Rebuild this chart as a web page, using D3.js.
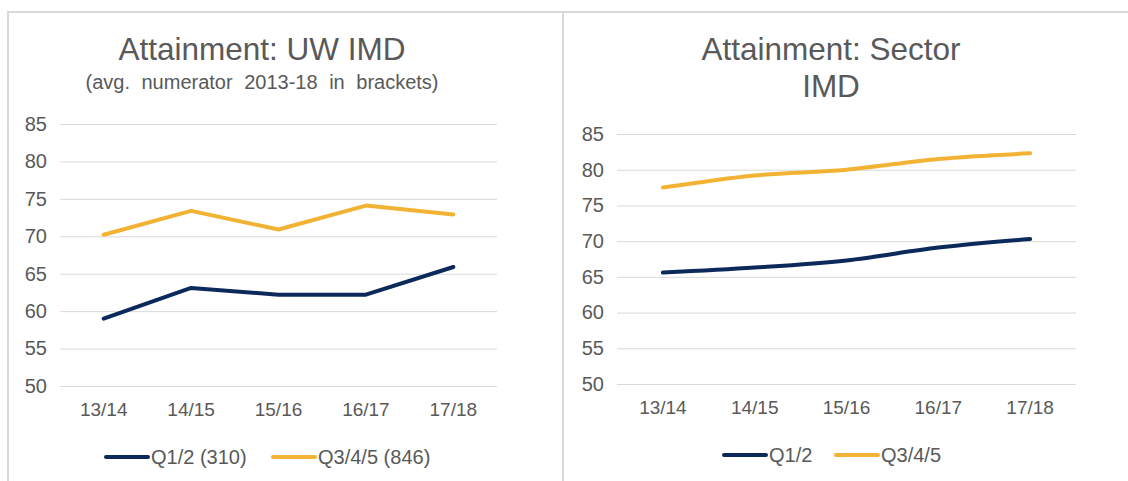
<!DOCTYPE html>
<meta charset="utf-8">
<style>
 body { margin: 0; background: #fff; }
 svg text { font-family: "Liberation Sans", Arial, sans-serif; fill: #595959; }
 .grid line { stroke: #d9d9d9; stroke-width: 1px; }
 .frame { stroke: #d9d9d9; stroke-width: 2px; fill: none; }
 .series { fill: none; stroke-width: 4px; stroke-linejoin: round; stroke-linecap: round; }
</style>
<svg class="chart" width="1128" height="481"></svg>
<script src="https://cdn.jsdelivr.net/npm/d3@7"></script>
<script>
 // shared categories and ticks
 var years = ["13/14", "14/15", "15/16", "16/17", "17/18"];
 var yTicks = [50, 55, 60, 65, 70, 75, 80, 85];

 // UW values
 var uwLow = [59.0, 63.1, 62.2, 62.2, 65.9];
 var uwHigh = [70.2, 73.4, 70.9, 74.1, 72.9];

 // sector values
 var sectorLow = [65.6, 66.3, 67.3, 69.1, 70.3];
 var sectorHigh = [77.5, 79.2, 80.0, 81.5, 82.3];

 var navy = "#0b2a5b";
 var gold = "#f2b233";

 var svg = d3.select(".chart");

 // frames round the two chart panels
 svg.append("path").attr("class", "frame").attr("d", "M8,490V12H1130");
 svg.append("line").attr("class", "frame")
     .attr("x1", 563).attr("x2", 563).attr("y1", 12).attr("y2", 490);

 drawPanel({
     left: 60, right: 497, top: 124, bottom: 386,
     titles: ["Attainment: UW IMD"], titleX: 262,
     subtitle: "(avg. numerator 2013-18 in brackets)",
     low: uwLow, high: uwHigh, curve: d3.curveLinear,
     legend: [{x: 106, label: "Q1/2 (310)"}, {x: 273, label: "Q3/4/5 (846)"}], legendY: 457
 });

 drawPanel({
     left: 617, right: 1076, top: 134, bottom: 384,
     titles: ["Attainment: Sector", "IMD"], titleX: 831,
     low: sectorLow, high: sectorHigh, curve: d3.curveCatmullRom.alpha(0),
     legend: [{x: 724, label: "Q1/2"}, {x: 836, label: "Q3/4/5"}], legendY: 455
 });

 function drawPanel(p)
 {
     var x = d3.scaleBand().domain(years).range([p.left, p.right]);
     var y = d3.scaleLinear().domain([50, 85]).range([p.bottom, p.top]);

     var g = svg.append("g");

     // titles
     p.titles.forEach(function(t, i) {
	 g.append("text").attr("x", p.titleX).attr("y", 60 + i * 37)
	     .attr("text-anchor", "middle").style("font-size", "31.5px").text(t);
     });
     if (p.subtitle)
     {
	 g.append("text").attr("x", p.titleX).attr("y", 89)
	     .attr("text-anchor", "middle").style("font-size", "20px")
	     .style("word-spacing", "6px").text(p.subtitle);
     }

     // gridlines and y labels
     var yAxis = g.append("g").attr("class", "grid")
	 .attr("transform", "translate(" + p.left + ",0)")
	 .call(d3.axisLeft(y).tickValues(yTicks).tickSize(-(p.right - p.left)).tickPadding(13));
     yAxis.select(".domain").remove();
     yAxis.selectAll("text").style("font-size", "20px").attr("fill", null);

     // x labels
     var xAxis = g.append("g")
	 .attr("transform", "translate(0," + p.bottom + ")")
	 .call(d3.axisBottom(x).tickSize(0).tickPadding(17));
     xAxis.select(".domain").remove();
     xAxis.selectAll("text").style("font-size", "19px").attr("fill", null);

     var line = d3.line()
	 .x(function(d, i) { return x(years[i]) + x.bandwidth() / 2; })
	 .y(function(d) { return y(d); })
	 .curve(p.curve);

     g.append("path").attr("class", "series").attr("stroke", gold).attr("d", line(p.high));
     g.append("path").attr("class", "series").attr("stroke", navy).attr("d", line(p.low));

     // legend
     var colors = [navy, gold];
     p.legend.forEach(function(l, i) {
	 g.append("line").attr("class", "series").attr("stroke", colors[i])
	     .attr("x1", l.x).attr("x2", l.x + 42).attr("y1", p.legendY).attr("y2", p.legendY);
	 g.append("text").attr("x", l.x + 45).attr("y", p.legendY).attr("dy", "0.35em")
	     .style("font-size", "20px").text(l.label);
     });
 }
</script>
